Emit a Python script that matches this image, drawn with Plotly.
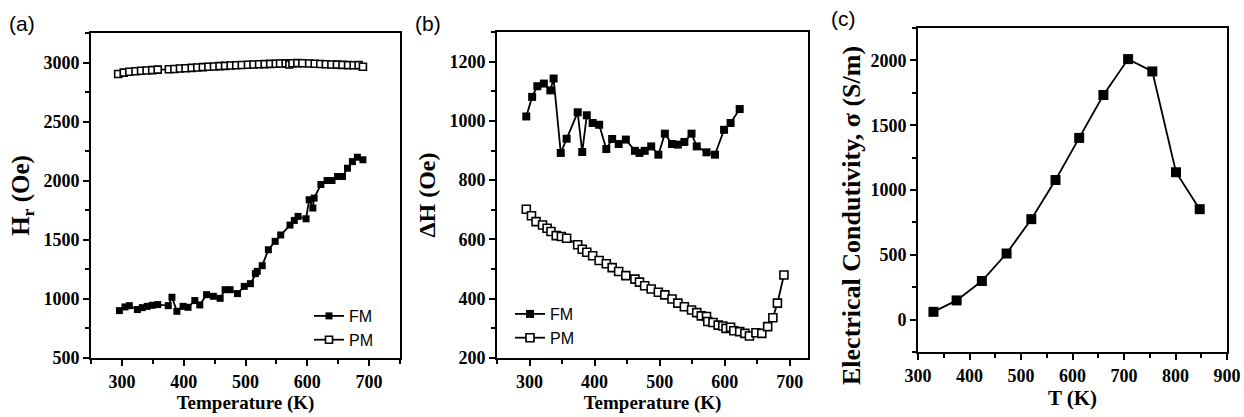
import plotly.graph_objects as go

# ---------------- Data ----------------
# Panel (a): resonance field H_r vs temperature
a_fm_T = [296, 305, 312, 325, 333, 341, 349, 358, 375, 381, 389, 399, 407, 418, 426, 437, 448, 459, 467, 475,
          487, 498, 508, 516, 519, 527, 537, 548, 557, 572, 579, 585, 598, 603, 609, 611, 622, 632, 640, 649,
          657, 665, 673, 681, 690]
a_fm_H = [901, 932, 943, 910, 926, 937, 946, 952, 943, 1014, 895, 937, 929, 986, 949, 1036, 1022, 1005, 1078, 1078,
          1045, 1106, 1129, 1214, 1233, 1281, 1416, 1487, 1541, 1625, 1664, 1698, 1678, 1839, 1769, 1853, 1968, 2002, 2002, 2036,
          2036, 2106, 2162, 2199, 2177]
a_pm_T = [294, 303, 312, 322, 331, 340, 349, 358, 376, 385, 394, 403, 413, 422, 431, 440, 449, 458, 467, 476,
          485, 494, 504, 513, 522, 531, 540, 549, 556, 565, 571, 576, 584, 592, 603, 612, 621, 630, 639, 648,
          657, 666, 675, 683, 690]
a_pm_H = [2903, 2915, 2922, 2926, 2930, 2933, 2936, 2940, 2943, 2946, 2949, 2952, 2955, 2958, 2961, 2964, 2967, 2970, 2972, 2975,
          2977, 2979, 2981, 2983, 2985, 2987, 2989, 2990, 2992, 2993, 2984, 2994, 2995, 2994, 2992, 2990, 2988, 2986, 2984, 2982,
          2980, 2978, 2977, 2978, 2965]

# Panel (b): linewidth dH vs temperature
b_fm_T = [295, 304, 312, 322, 332, 337, 348, 357, 374, 381, 388, 397, 407, 418, 427, 437, 448, 462, 469, 477,
          487, 498, 508, 519, 528, 538, 549, 557, 572, 585, 599, 609, 623]
b_fm_H = [1015, 1081, 1117, 1126, 1103, 1143, 892, 940, 1029, 895, 1019, 993, 987, 905, 939, 922, 937, 899, 892, 899,
          914, 886, 957, 922, 920, 929, 957, 914, 894, 886, 970, 993, 1040]
b_pm_T = [295, 303, 310, 320, 327, 333, 341, 349, 357, 374, 381, 388, 397, 407, 418, 427, 437, 448, 462, 469,
          477, 487, 498, 508, 519, 528, 538, 549, 557, 564, 572, 574, 582, 590, 597, 602, 609, 614, 623, 631,
          638, 648, 657, 666, 674, 681, 691]
b_pm_H = [702, 680, 660, 649, 638, 627, 613, 610, 604, 582, 567, 557, 545, 529, 518, 505, 492, 478, 466, 456,
          444, 433, 422, 413, 399, 385, 373, 362, 353, 342, 340, 323, 320, 311, 308, 300, 304, 292, 289, 283,
          274, 285, 283, 306, 336, 385, 480]

# Panel (c): electrical conductivity vs T
c_T = [330, 375, 424, 472, 520, 567, 613, 660, 708, 755, 801, 847]
c_S = [60, 148, 298, 510, 775, 1077, 1402, 1733, 2010, 1915, 1137, 852]

# ---------------- Figure ----------------
W, H = 1244, 417
BLACK = "black"
SERIF = "Liberation Serif"
SANS = "Liberation Sans"

fig = go.Figure()

def fm_trace(x, y, xa, ya, size, legend):
    return go.Scatter(x=x, y=y, xaxis=xa, yaxis=ya, mode="lines+markers", name="FM",
                      line=dict(color=BLACK, width=1.8),
                      marker=dict(symbol="square", size=size, color=BLACK, line=dict(width=0)),
                      legend=legend)

def pm_trace(x, y, xa, ya, size, legend):
    return go.Scatter(x=x, y=y, xaxis=xa, yaxis=ya, mode="lines+markers", name="PM",
                      line=dict(color=BLACK, width=1.8),
                      marker=dict(symbol="square", size=size, color="white", line=dict(width=1.6, color=BLACK)),
                      legend=legend)

fig.add_trace(fm_trace(a_fm_T, a_fm_H, "x", "y", 7, "legend"))
fig.add_trace(pm_trace(a_pm_T, a_pm_H, "x", "y", 7, "legend"))
fig.add_trace(fm_trace(b_fm_T, b_fm_H, "x2", "y2", 8, "legend2"))
fig.add_trace(pm_trace(b_pm_T, b_pm_H, "x2", "y2", 8, "legend2"))
fig.add_trace(go.Scatter(x=c_T, y=c_S, xaxis="x3", yaxis="y3", mode="lines+markers",
                         line=dict(color=BLACK, width=1.8),
                         marker=dict(symbol="square", size=10, color=BLACK), showlegend=False))

tickfont = dict(family=SERIF, size=18, color=BLACK, weight="bold")

def ax(domain, rng, dtick, minor, anchor, title, tsize, standoff):
    return dict(domain=domain, range=rng, dtick=dtick, tick0=0, anchor=anchor,
                showline=True, linewidth=2, linecolor=BLACK, mirror=True,
                ticks="outside", ticklen=6, tickwidth=2, tickcolor=BLACK,
                showgrid=False, zeroline=False, automargin=False,
                tickfont=tickfont, tickprefix="<b>", ticksuffix="</b>",
                title=dict(text=("<b>" + title + "</b>") if title else "",
                           font=dict(family=SERIF, size=tsize, color=BLACK, weight="bold"),
                           standoff=standoff),
                minor=dict(ticks="outside", ticklen=4, tickwidth=2, tickcolor=BLACK, dtick=minor, showgrid=False))

def px_x(a, b):
    return [a / W, b / W]

def px_y(top, bottom):
    return [1 - bottom / H, 1 - top / H]

legfont = dict(family=SANS, size=16, color=BLACK)

fig.update_layout(
    width=W, height=H, margin=dict(l=0, r=0, t=0, b=0),
    paper_bgcolor="white", plot_bgcolor="white",
    xaxis=ax(px_x(91, 400), [250, 750], 100, 50, "y", "Temperature (K)", 19, 2),
    yaxis=ax(px_y(33, 358), [500, 3250], 500, 250, "x", "H<sub>r</sub> (Oe)", 25, 7),
    xaxis2=ax(px_x(497, 808), [250, 728], 100, 50, "y2", "Temperature (K)", 19, 2),
    yaxis2=ax(px_y(32, 358), [200, 1300], 200, 100, "x2", "ΔH (Oe)", 24, 7),
    xaxis3=ax(px_x(918, 1227), [300, 900], 100, 50, "y3", "T (K)", 21, 0),
    yaxis3=ax(px_y(28, 352), [-250, 2250], 500, 250, "x3", "", 24, 5),
    legend=dict(x=309 / W, y=1 - 299 / H, xanchor="left", yanchor="top",
                bgcolor="rgba(0,0,0,0)", font=legfont, tracegroupgap=0, itemwidth=30),
    legend2=dict(x=510 / W, y=1 - 297 / H, xanchor="left", yanchor="top",
                 bgcolor="rgba(0,0,0,0)", font=legfont, tracegroupgap=0, itemwidth=30),
    annotations=[
        dict(text="(a)", x=7 / W, y=1 - 10 / H, xref="paper", yref="paper", xanchor="left", yanchor="top",
             showarrow=False, font=dict(family=SANS, size=21, color=BLACK)),
        dict(text="(b)", x=413 / W, y=1 - 10 / H, xref="paper", yref="paper", xanchor="left", yanchor="top",
             showarrow=False, font=dict(family=SANS, size=21, color=BLACK)),
        dict(text="(c)", x=829 / W, y=1 - 5 / H, xref="paper", yref="paper", xanchor="left", yanchor="top",
             showarrow=False, font=dict(family=SANS, size=21, color=BLACK)),
        dict(text="<b>Electrical Condutivity, σ (S/m)</b>", x=851 / W, y=1 - 216 / H,
             xref="paper", yref="paper", xanchor="center", yanchor="middle", textangle=-90,
             showarrow=False, font=dict(family=SERIF, size=26, color=BLACK, weight="bold")),
    ],
)

fig.write_html("out.html")
